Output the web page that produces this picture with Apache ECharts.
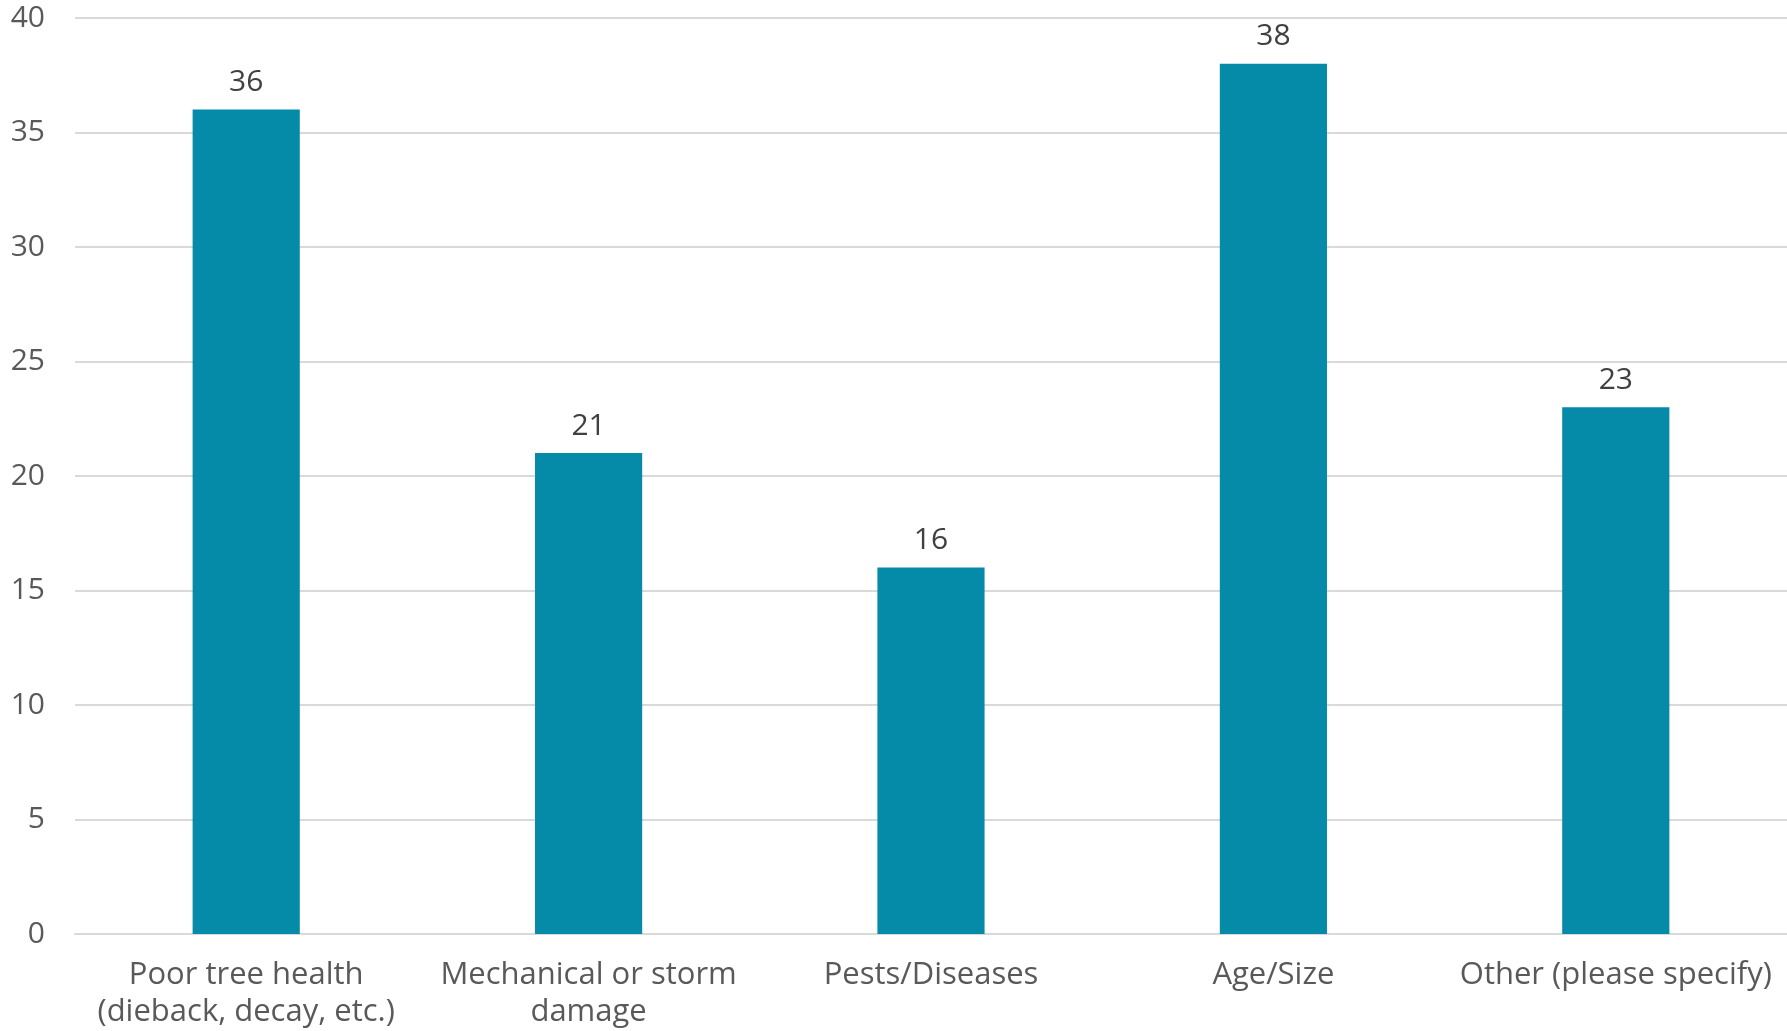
<!DOCTYPE html>
<html>
<head>
<meta charset="utf-8">
<script src="https://cdn.jsdelivr.net/npm/echarts@6/dist/echarts.min.js"></script>
<style>
html,body{margin:0;padding:0;background:#fff;}
#chart{width:1787px;height:1031px;}
</style>
</head>
<body>
<div id="chart"></div>
<script>
const categories = [
  "Poor tree health\n(dieback, decay, etc.)",
  "Mechanical or storm\ndamage",
  "Pests/Diseases",
  "Age/Size",
  "Other (please specify)"
];
const values = [36, 21, 16, 38, 23];
const yTicks = { min: 0, max: 40, interval: 5 };

const FONT = "'Open Sans', 'Noto Sans', sans-serif";
const chart = echarts.init(document.getElementById('chart'));
chart.setOption({
  animation: false,
  backgroundColor: '#ffffff',
  grid: { left: 75, right: 0, top: 18, bottom: 96, containLabel: false },
  xAxis: {
    type: 'category',
    data: categories,
    axisLine: { show: true, lineStyle: { color: '#d9d9d9', width: 2 } },
    axisTick: { show: false },
    axisLabel: {
      interval: 0,
      color: '#595959',
      fontFamily: FONT,
      fontSize: 31,
      lineHeight: 37,
      margin: 23
    }
  },
  yAxis: {
    type: 'value',
    min: yTicks.min,
    max: yTicks.max,
    interval: yTicks.interval,
    axisLine: { show: false },
    axisTick: { show: false },
    splitLine: { lineStyle: { color: '#d9d9d9', width: 2 } },
    axisLabel: {
      color: '#595959',
      fontFamily: FONT,
      fontSize: 30,
      margin: 30
    }
  },
  series: [{
    type: 'bar',
    data: values,
    barWidth: '31.3%',
    itemStyle: { color: '#058aa8' },
    label: {
      show: true,
      position: 'top',
      distance: 12,
      color: '#404040',
      fontFamily: FONT,
      fontSize: 30
    }
  }]
});
</script>
</body>
</html>
